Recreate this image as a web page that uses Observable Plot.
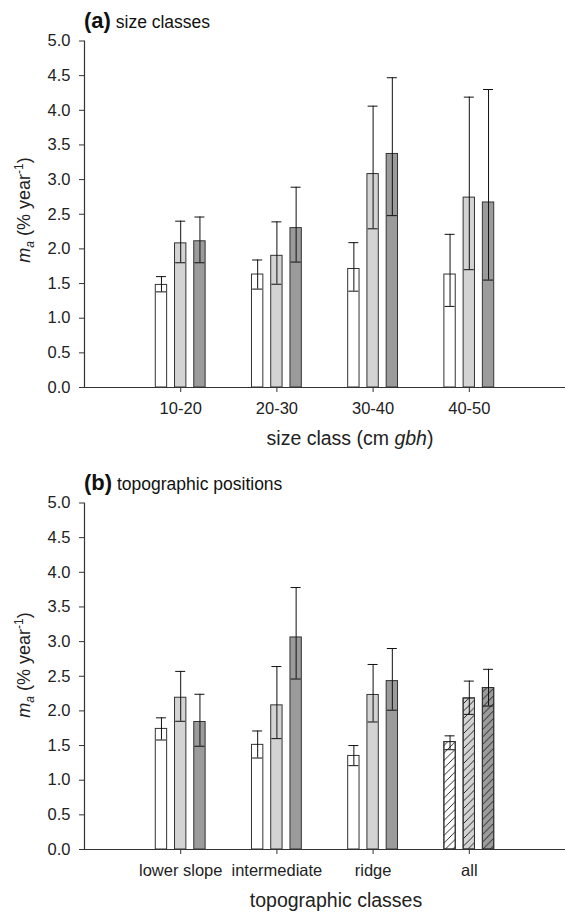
<!DOCTYPE html>
<html><head><meta charset="utf-8">
<script src="https://cdn.jsdelivr.net/npm/d3@7"></script>
<script src="https://cdn.jsdelivr.net/npm/@observablehq/plot@0.6"></script>
<style>
html,body{margin:0;padding:0;background:#fff;}
#wrap{position:relative;width:565px;height:914px;overflow:hidden;background:#fff;}
#wrap svg.panel{position:absolute;left:0;}
</style></head><body>
<svg width="0" height="0" style="position:absolute">
<defs><pattern id="hatch" patternUnits="userSpaceOnUse" width="7.5" height="7.5">
<path d="M-1,1 L1,-1 M0,7.5 L7.5,0 M6.5,8.5 L8.5,6.5" stroke="#111" stroke-width="0.9" fill="none"/>
</pattern></defs></svg>
<div id="wrap"></div>
<script>
// ---- data ----
const sizeClasses = ["10-20", "20-30", "30-40", "40-50"];
const topoClasses = ["lower slope", "intermediate", "ridge", "all"];
const hatchedClasses = ["all"];
const seriesFill = ["#ffffff", "#d3d3d3", "#9b9b9b"];
const yTicks = [0, 0.5, 1, 1.5, 2, 2.5, 3, 3.5, 4, 4.5, 5];

// panel (a): rows = size classes, columns = three series
const sizeMean = [[1.48, 2.08, 2.11], [1.63, 1.90, 2.30], [1.71, 3.08, 3.37], [1.63, 2.74, 2.67]];
const sizeLow  = [[1.38, 1.80, 1.80], [1.42, 1.49, 1.81], [1.39, 2.29, 2.48], [1.17, 1.70, 1.55]];
const sizeHigh = [[1.60, 2.40, 2.46], [1.84, 2.39, 2.89], [2.09, 4.06, 4.47], [2.21, 4.19, 4.30]];

// panel (b): rows = topographic classes
const topoMean = [[1.74, 2.19, 1.84], [1.51, 2.08, 3.06], [1.35, 2.23, 2.43], [1.55, 2.18, 2.33]];
const topoLow  = [[1.58, 1.85, 1.49], [1.32, 1.60, 2.46], [1.21, 1.84, 2.01], [1.44, 1.95, 2.07]];
const topoHigh = [[1.90, 2.57, 2.24], [1.71, 2.64, 3.78], [1.50, 2.67, 2.90], [1.64, 2.43, 2.60]];

// ---- layout ----
const FONT = "'Liberation Sans', Arial, Helvetica, sans-serif";
const OFF = 0.2, BW = 0.059, CW = 0.052;

function panel(opts) {
  const {cats, mean, lo, hi, top, letter, subtitle, xTitleHTML, xTitleX, yTitleY} = opts;
  const rows = [];
  cats.forEach((c, i) => mean[i].forEach((m, j) => rows.push({
    cat: c, i, j, cx: i + 1 + (j - 1) * OFF, mean: m, lo: lo[i][j], hi: hi[i][j],
    fill: seriesFill[j], hatch: hatchedClasses.includes(c)
  })));
  const svg = Plot.plot({
    width: 565, height: 460,
    marginTop: 40.5, marginBottom: 73, marginLeft: 84, marginRight: 0,
    style: {fontFamily: FONT, fontSize: "16.5px", color: "#222", background: "transparent", overflow: "visible"},
    x: {domain: [0, 5]},
    y: {domain: [0, 5]},
    color: {type: "identity"},
    marks: [
      Plot.rect(rows, {x1: d => d.cx - BW, x2: d => d.cx + BW, y1: 0, y2: "mean", fill: "fill", stroke: "#333", strokeWidth: 1}),
      Plot.rect(rows.filter(d => d.hatch), {x1: d => d.cx - BW, x2: d => d.cx + BW, y1: 0, y2: "mean", fill: "url(#hatch)", stroke: "#333", strokeWidth: 1}),
      Plot.ruleX(rows, {x: "cx", y1: "lo", y2: "hi", stroke: "#111", strokeWidth: 1}),
      Plot.ruleY(rows, {y: "hi", x1: d => d.cx - CW, x2: d => d.cx + CW, stroke: "#111", strokeWidth: 1}),
      Plot.ruleY(rows, {y: "lo", x1: d => d.cx - CW, x2: d => d.cx + CW, stroke: "#111", strokeWidth: 1}),
      Plot.ruleX([0], {y1: 0, y2: 5, stroke: "#333", strokeWidth: 1.2}),
      Plot.ruleY([0], {stroke: "#333", strokeWidth: 1.2}),
      Plot.axisY({ticks: yTicks, tickFormat: d => d.toFixed(1), tickSize: 5, tickPadding: 9, label: null, stroke: "#333"}),
      Plot.axisX({ticks: [1, 2, 3, 4], tickFormat: d => cats[d - 1], tickSize: 5, tickPadding: 10, label: null, stroke: "#333"})
    ]
  });
  svg.classList.add("panel");
  svg.style.top = top + "px";
  const s = d3.select(svg);
  // panel title
  const t = s.append("text").attr("x", 84).attr("y", 27.5).attr("text-anchor", "start")
    .attr("fill", "#111").style("font-family", FONT);
  t.append("tspan").attr("font-weight", "bold").attr("font-size", 22).text(letter);
  t.append("tspan").attr("font-size", 17.5).text(" " + subtitle);
  // x-axis title
  const xt = s.append("text").attr("x", xTitleX).attr("y", 445).attr("text-anchor", "middle")
    .attr("font-size", 19.5).attr("fill", "#222").style("font-family", FONT);
  xTitleHTML.forEach(([txt, ital]) => xt.append("tspan").attr("font-style", ital ? "italic" : null).text(txt));
  // y-axis title
  const yt = s.append("text").attr("transform", `translate(30,${yTitleY}) rotate(-90)`)
    .attr("text-anchor", "middle").attr("font-size", 18).attr("fill", "#222").style("font-family", FONT);
  yt.append("tspan").attr("font-style", "italic").text("m");
  yt.append("tspan").attr("font-style", "italic").attr("font-size", 12).attr("dy", 4).text("a");
  yt.append("tspan").attr("dy", -4).text(" (% year");
  yt.append("tspan").attr("font-size", 12).attr("dy", -7).text("-1");
  yt.append("tspan").attr("dy", 7).text(")");
  return svg;
}

const wrap = document.getElementById("wrap");
wrap.appendChild(panel({
  cats: sizeClasses, mean: sizeMean, lo: sizeLow, hi: sizeHigh, top: 0,
  letter: "(a)", subtitle: "size classes",
  xTitleHTML: [["size class (cm ", false], ["gbh", true], [")", false]], xTitleX: 350, yTitleY: 210
}));
wrap.appendChild(panel({
  cats: topoClasses, mean: topoMean, lo: topoLow, hi: topoHigh, top: 461.5,
  letter: "(b)", subtitle: "topographic positions",
  xTitleHTML: [["topographic classes", false]], xTitleX: 336, yTitleY: 203
}));
</script>
</body></html>
